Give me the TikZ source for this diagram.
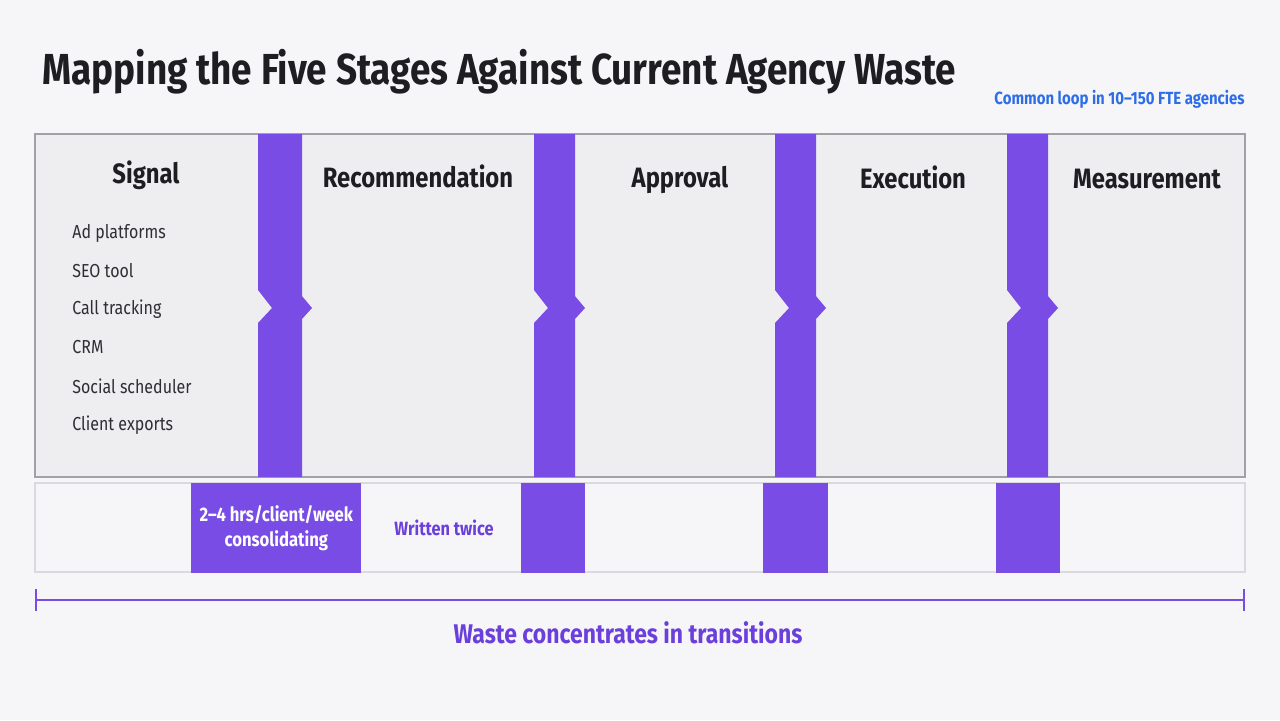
\documentclass[tikz,border=0pt]{standalone}
\usepackage{fontspec}
\setmainfont[FakeStretch=0.85]{Fira Sans}
\usepackage{tikz}
\usetikzlibrary{positioning, arrows.meta, calc}
\definecolor{PageBg}  {HTML}{F6F6F8}
\definecolor{PanelBg} {HTML}{EEEEF1}
\definecolor{PanelLn} {HTML}{A2A2A6}
\definecolor{LowLn}   {HTML}{DADADE}
\definecolor{Violet}  {HTML}{784CE5}
\definecolor{VioText} {HTML}{6B3FDB}
\definecolor{LinkBlue}{HTML}{2D6DE8}
\definecolor{Ink}     {HTML}{1E1E22}
\definecolor{InkSoft} {HTML}{2E2E33}

\begin{document}
\begin{tikzpicture}[x=0.5pt, y=-0.5pt,
    stage/.style={font=\fontsize{14}{17}\selectfont\bfseries, text=Ink, inner sep=0pt, anchor=base},
    source/.style={font=\fontsize{9.4}{12}\selectfont, text=InkSoft, anchor=west, inner sep=0pt},
    wastebox/.style={fill=Violet, draw=none, inner sep=0pt, anchor=north west, align=center,
      text=white, font=\fontsize{9.8}{12.5}\selectfont\bfseries}]
      % ── page and bounding box ────────────────────────────────────────────────
      \fill[PageBg] (0,0) rectangle (1280,720);
      \useasboundingbox (0,0) rectangle (1280,720);
      % ── title and note ───────────────────────────────────────────────────────
      \node[font=\fontsize{21.7}{26}\selectfont\bfseries, text=Ink, anchor=base west, inner sep=0pt]
        (title) at (42,84) {Mapping the Five Stages Against Current Agency Waste};
      \node[font=\fontsize{8.8}{10}\selectfont\bfseries, text=LinkBlue, anchor=east, inner sep=0pt]
        (note) at (1245,99) {Common loop in 10–150 FTE agencies};
      % ── stage panel ──────────────────────────────────────────────────────────
      \fill[PanelBg] (35,134) rectangle (1245,477);
      \draw[PanelLn, line width=0.6pt] (35,134) rectangle (1245,477);
      % ── transition bars with notch ───────────────────────────────────────────
      \foreach \x/\w in {258/44, 534/41, 775/41, 1007/41} {
        \fill[Violet] (\x,134) -- (\x,290) -- (\x+14,308) -- (\x,323) -- (\x,477)
          -- (\x+\w,477) -- (\x+\w,319) -- (\x+\w+10,308) -- (\x+\w,296) -- (\x+\w,134) -- cycle;
      }
      % ── stage labels ─────────────────────────────────────────────────────────
      \foreach \n/\x/\y/\lab in {signal/146/183/Signal, recommend/418/187/Recommendation,
          approval/680/187/Approval, execution/913/188/Execution, measure/1147/188/Measurement} {
        \node[stage] (\n) at (\x,\y) {\lab};
      }
      % ── signal sources ───────────────────────────────────────────────────────
      \foreach \i/\y/\lab in {1/233/Ad platforms, 2/271/SEO tool, 3/309/Call tracking,
          4/347/CRM, 5/386/Social scheduler, 6/425/Client exports} {
        \node[source] (src\i) at (72,\y) {\lab};
      }
      % ── waste strip ──────────────────────────────────────────────────────────
      \fill[PageBg] (35,483) rectangle (1245,572);
      \draw[LowLn, line width=0.6pt] (35,483) rectangle (1245,572);
      \node[wastebox, minimum width=85pt, minimum height=45pt] (box1) at (191,483)
        {2–4 hrs/client/week\\consolidating};
      \foreach \i/\x/\w in {2/521/64, 3/763/65, 4/996/64} {
        \node[wastebox, minimum width=\w*0.5pt, minimum height=45pt] (box\i) at (\x,483) {};
      }
      \node[font=\fontsize{9.6}{12}\selectfont\bfseries, text=VioText, inner sep=0pt]
        (twice) at (444,528) {Written twice};
      % ── span bracket ─────────────────────────────────────────────────────────
      \coordinate (spanL) at (35,600);
      \coordinate (spanR) at (1245,600);
      \draw[Violet, line width=1.2pt, {Bar[width=11pt]}-{Bar[width=11pt]}] (spanL) -- (spanR);
      \node[font=\fontsize{13.5}{15}\selectfont\bfseries, text=VioText, inner sep=0pt]
        (waste) at (628,633) {Waste concentrates in transitions};
    \end{tikzpicture}
\end{document}
